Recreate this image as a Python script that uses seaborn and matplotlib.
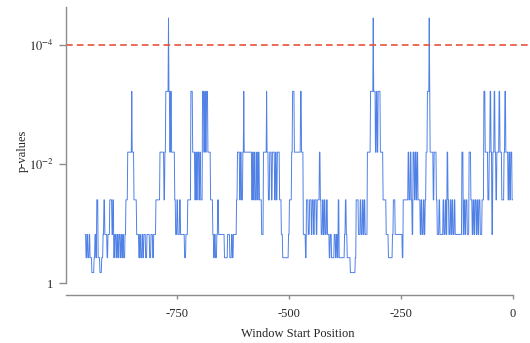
import numpy as np
import pandas as pd
import matplotlib
matplotlib.use('Agg')
import matplotlib.pyplot as plt
import seaborn as sns

# discrete -log10(p) levels seen in the trace
levels = [0.18, 0.43, 0.82, 1.4, 2.2, 3.22, 4.45]

# window start where the value changes, and the level index from there on
change_pos = [
    -955, -953, -951, -949, -946, -944, -940, -935, -933, -931, -929, -926, -922, -918,
    -915, -913, -911, -906, -904, -900, -895, -893, -891, -889, -886, -884, -882, -880,
    -877, -875, -873, -871, -869, -866, -864, -860, -851, -850, -846, -840, -835, -833,
    -831, -828, -826, -824, -820, -817, -811, -808, -804, -802, -797, -788, -779, -777,
    -775, -769, -768, -766, -764, -762, -755, -753, -750, -748, -744, -742, -733, -730,
    -726, -719, -715, -710, -708, -706, -704, -701, -699, -697, -693, -690, -688, -686,
    -684, -681, -675, -670, -668, -666, -664, -661, -659, -657, -644, -637, -632, -628,
    -626, -624, -617, -615, -610, -608, -606, -603, -601, -600, -583, -581, -579, -577,
    -575, -572, -570, -568, -566, -561, -557, -550, -549, -546, -543, -539, -537, -532,
    -530, -528, -526, -521, -517, -514, -501, -499, -494, -492, -488, -474, -472, -468,
    -463, -461, -457, -454, -450, -448, -445, -443, -439, -437, -432, -430, -428, -425,
    -423, -421, -419, -416, -414, -410, -408, -405, -399, -396, -394, -392, -390, -388,
    -376, -374, -372, -370, -363, -352, -350, -345, -341, -339, -336, -334, -332, -330,
    -325, -318, -312, -311, -307, -305, -303, -301, -296, -290, -283, -278, -269, -267,
    -263, -247, -245, -234, -232, -229, -227, -225, -223, -220, -218, -216, -214, -212,
    -207, -205, -203, -200, -198, -196, -194, -191, -187, -186, -185, -178, -176, -171,
    -169, -165, -163, -156, -154, -151, -149, -147, -145, -143, -140, -138, -136, -134,
    -131, -129, -114, -111, -109, -107, -105, -102, -98, -94, -91, -89, -87, -85,
    -82, -80, -78, -76, -73, -69, -65, -62, -56, -53, -51, -49, -47, -45,
    -42, -40, -38, -36, -31, -29, -25, -20, -18, -16, -11, -9, -7, -5, -2,
]
change_lvl = [
    2, 1, 2, 1, 2, 1, 0, 1, 2, 1, 3, 1, 0, 1,
    2, 3, 2, 1, 2, 3, 2, 3, 1, 2, 1, 2, 1, 2,
    1, 2, 1, 2, 1, 2, 3, 4, 5, 4, 3, 2, 1, 2,
    1, 2, 1, 2, 1, 2, 1, 2, 1, 2, 3, 4, 3, 4,
    5, 6, 5, 4, 5, 4, 3, 2, 3, 2, 3, 2, 1, 2,
    3, 5, 4, 3, 4, 3, 4, 3, 4, 3, 5, 4, 5, 4,
    5, 4, 3, 2, 1, 2, 1, 2, 3, 2, 1, 2, 1, 2,
    1, 2, 3, 4, 3, 4, 3, 4, 5, 4, 3, 4, 3, 4,
    3, 4, 3, 4, 3, 2, 4, 5, 4, 3, 4, 3, 4, 3,
    4, 3, 4, 3, 2, 1, 2, 3, 4, 5, 4, 5, 4, 2,
    1, 3, 2, 3, 2, 3, 2, 3, 2, 3, 4, 3, 2, 3,
    2, 3, 2, 3, 2, 1, 2, 1, 2, 1, 2, 1, 3, 1,
    2, 3, 2, 1, 0, 1, 3, 2, 3, 2, 3, 2, 3, 2,
    4, 5, 6, 5, 4, 5, 4, 5, 4, 3, 2, 1, 2, 3,
    2, 1, 3, 4, 3, 4, 3, 2, 4, 3, 4, 3, 4, 3,
    2, 3, 2, 3, 2, 3, 4, 5, 6, 5, 4, 3, 4, 3,
    2, 3, 2, 3, 2, 3, 2, 4, 3, 2, 3, 2, 3, 2,
    3, 2, 4, 2, 3, 2, 3, 2, 4, 3, 2, 3, 2, 3,
    2, 3, 2, 3, 2, 3, 5, 4, 3, 4, 5, 4, 2, 4,
    5, 4, 3, 4, 5, 4, 3, 4, 5, 4, 3, 4, 3, 4, 3,
]
end_pos = 0
threshold = 1e-4

# expand the runs to one value per window start
bounds = change_pos + [end_pos]
runs = np.diff(bounds)
pos = np.arange(change_pos[0], end_pos)
lvl = np.repeat(np.array(levels)[change_lvl], runs)
df = pd.DataFrame({'pos': pos, 'p': 10.0 ** (-lvl)})

sns.set_style('ticks')
plt.rcParams['font.family'] = ['Liberation Serif', 'DejaVu Serif']
plt.rcParams['mathtext.fontset'] = 'stix'

fig = plt.figure(figsize=(5.3, 3.43), dpi=100)
ax = fig.add_axes([0.1245, 0.1399, 0.8755, 0.8406])

sns.lineplot(data=df, x='pos', y='p', ax=ax, color='#4f80e6', linewidth=0.7)
ax.axhline(threshold, color='#e8503a', linestyle=(0, (4, 2.5)), linewidth=1.2)

ax.set_yscale('log')
ax.set_ylim(10 ** 0.196, 10 ** -4.64)
ax.set_xlim(-997.8, 37.9)

ax.set_yticks([1, 1e-2, 1e-4])
ax.set_yticklabels(['1', '$10^{-2}$', '$10^{-4}$'])
ax.minorticks_off()
ax.set_xticks([-750, -500, -250, 0])
ax.set_xticklabels(['-750', '-500', '-250', '0'])

for side in ['top', 'right']:
    ax.spines[side].set_visible(False)
ax.spines['left'].set_bounds(1, 10 ** -4.64)
ax.spines['bottom'].set_bounds(-997.8, 0)
for side in ['left', 'bottom']:
    ax.spines[side].set_color('#8c8c8c')
    ax.spines[side].set_linewidth(1.0)
ax.tick_params(axis='y', length=5, width=1, color='#8c8c8c', labelsize=9, pad=4)
ax.tick_params(axis='x', length=3, width=1, color='#8c8c8c', labelsize=9, pad=6)

ax.set_xlabel('Window Start Position', fontsize=9, labelpad=6)
ax.set_ylabel('p-values', fontsize=9, labelpad=0)

fig.savefig('out.png', dpi=100)
